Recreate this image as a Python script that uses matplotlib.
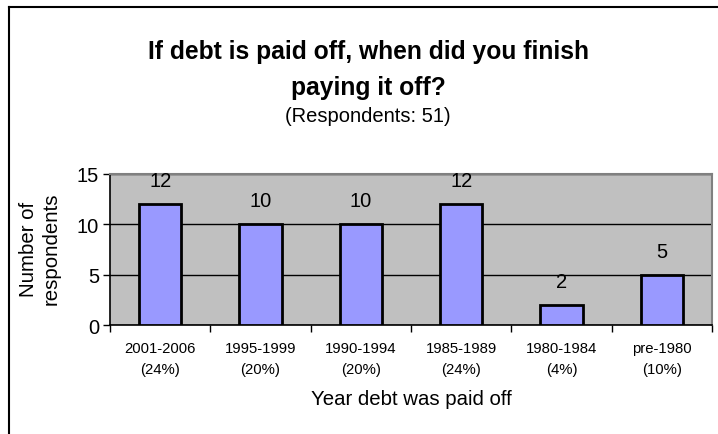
import matplotlib
matplotlib.use("Agg")
import matplotlib.pyplot as plt
from matplotlib.lines import Line2D

plt.rcParams['font.family'] = ['Liberation Sans', 'DejaVu Sans']

categories = ["2001-2006", "1995-1999", "1990-1994", "1985-1989", "1980-1984", "pre-1980"]
shares = ["(24%)", "(20%)", "(20%)", "(24%)", "(4%)", "(10%)"]
counts = [12, 10, 10, 12, 2, 5]
yticks = [0, 5, 10, 15]

W, H = 718, 435
fig = plt.figure(figsize=(W / 100, H / 100), dpi=100)
fig.patch.set_facecolor("white")

# outer frame: top and left edges only
fig.add_artist(Line2D([9 / W, 1.0], [1 - 8 / H, 1 - 8 / H], color="black", lw=1.5, transform=fig.transFigure))
fig.add_artist(Line2D([9 / W, 9 / W], [0.0, 1 - 8 / H], color="black", lw=1.5, transform=fig.transFigure))

ax = fig.add_axes([110 / W, (H - 326) / H, 602 / W, 151 / H])
ax.set_facecolor("#C0C0C0")
x = list(range(len(categories)))
ax.bar(x, counts, width=0.42, color="#9999FF", edgecolor="black", linewidth=2, zorder=3)
for xi, v in zip(x, counts):
    ax.annotate(str(v), (xi, v), xytext=(0, 17), textcoords="offset points",
                ha="center", va="center", fontsize=14.5)

ax.set_xlim(-0.5, len(categories) - 0.5)
ax.set_ylim(0, 15)
ax.set_yticks(yticks)
ax.set_yticklabels([str(t) for t in yticks], fontsize=14.5)
ax.yaxis.grid(True, color="black", linewidth=1, zorder=1)
ax.set_axisbelow(True)

ax.set_xticks([i - 0.5 for i in range(len(categories) + 1)])
ax.set_xticklabels([])
ax.tick_params(axis="x", direction="out", length=5, width=1)
ax.tick_params(axis="y", direction="out", length=5, width=1, pad=3)
for xi, c, s in zip(x, categories, shares):
    xf = ax.transData.transform((xi, 0))[0] / W
    fig.text(xf, 1 - 349 / H, c, ha="center", va="center", fontsize=10.7)
    fig.text(xf, 1 - 370 / H, s, ha="center", va="center", fontsize=10.7)

for side in ("top", "right"):
    ax.spines[side].set_color("#808080")
    ax.spines[side].set_linewidth(1.5)
for side in ("left", "bottom"):
    ax.spines[side].set_color("black")
    ax.spines[side].set_linewidth(1.2)

fig.text(40 / W, 1 - 249 / H, "Number of\nrespondents", rotation=90, ha="center", va="center",
         fontsize=14.7, linespacing=1.2)
fig.text(411 / W, 1 - 400 / H, "Year debt was paid off", ha="center", va="center", fontsize=14.7)

fig.text(368 / W, 1 - 52 / H, "If debt is paid off, when did you finish", ha="center", va="center",
         fontsize=17.7, fontweight="bold")
fig.text(368 / W, 1 - 88 / H, "paying it off?", ha="center", va="center",
         fontsize=17.7, fontweight="bold")
fig.text(368 / W, 1 - 117 / H, "(Respondents: 51)", ha="center", va="center", fontsize=14.5)

fig.savefig("out.png", dpi=100)
